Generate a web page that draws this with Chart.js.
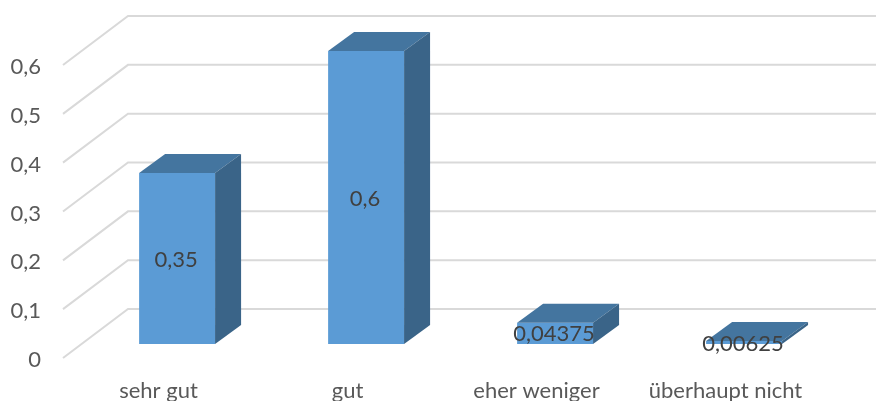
<!DOCTYPE html>
<html>
<head>
<meta charset="utf-8">
<script src="https://cdn.jsdelivr.net/npm/chart.js@4/dist/chart.umd.min.js"></script>
<style>
html, body { margin: 0; padding: 0; background: #fff; }
canvas { display: block; }
</style>
</head>
<body>
<canvas id="chart" width="876" height="401"></canvas>
<script>
var categories = ["sehr gut", "gut", "eher weniger", "überhaupt nicht"];
var values = [0.35, 0.6, 0.04375, 0.00625];
var tickValues = [0, 0.1, 0.2, 0.3, 0.4, 0.5, 0.6];

var fontName = "Lato";
var frontColor = "#5B9BD5";
var topColor = "#44759F";
var sideColor = "#3A6488";
var gridColor = "#D9D9D9";

// floor / wall depth, and where the bars stand on the floor
var wallDx = 65, wallDy = -49;
var barShiftX = 18.6, barShiftY = -14;
var barDx = 26, barDy = -19;

function comma(v) {
	return String(v).replace(".", ",");
}

function face(ctx, points, color) {
	ctx.beginPath();
	ctx.moveTo(points[0][0], points[0][1]);
	for (var i = 1; i < points.length; i++) {
		ctx.lineTo(points[i][0], points[i][1]);
	}
	ctx.closePath();
	ctx.fillStyle = color;
	ctx.fill();
}

var fake3d = {
	id: "fake3d",
	beforeDatasetsDraw: function (chart) {
		var ctx = chart.ctx;
		var y = chart.scales.y;
		var left = chart.chartArea.left - 1;

		// walls
		ctx.save();
		ctx.strokeStyle = gridColor;
		ctx.lineWidth = 2;
		tickValues.forEach(function (v) {
			var py = y.getPixelForValue(v);
			ctx.beginPath();
			ctx.moveTo(left, py);
			ctx.lineTo(left + wallDx, py + wallDy);
			ctx.lineTo(chart.width, py + wallDy);
			ctx.stroke();
		});
		ctx.restore();

		ctx.save();
		ctx.translate(barShiftX, barShiftY);
	},
	afterDatasetsDraw: function (chart) {
		var ctx = chart.ctx;
		var bars = chart.getDatasetMeta(0).data;

		bars.forEach(function (bar) {
			var l = bar.x - bar.width / 2, r = bar.x + bar.width / 2;
			face(ctx, [[l, bar.y], [r, bar.y], [r + barDx, bar.y + barDy], [l + barDx, bar.y + barDy]], topColor);
			face(ctx, [[r, bar.y], [r, bar.base], [r + barDx, bar.base + barDy], [r + barDx, bar.y + barDy]], sideColor);
		});

		ctx.fillStyle = "#404040";
		ctx.font = "22px " + fontName;
		ctx.textAlign = "center";
		ctx.textBaseline = "middle";
		bars.forEach(function (bar, i) {
			ctx.fillText(comma(values[i]), bar.x - 1, (bar.y + bar.base) / 2 + 1);
		});
		ctx.restore();
	}
};

var chart = new Chart("chart", {
	type: "bar",
	data: {
		labels: categories,
		datasets: [{
			data: values,
			backgroundColor: frontColor,
			barPercentage: 0.402,
			categoryPercentage: 1,
			clip: false
		}]
	},
	options: {
		responsive: false,
		animation: false,
		layout: { padding: { left: 0, right: 56, top: 65, bottom: 0 } },
		plugins: { legend: { display: false }, tooltip: { enabled: false } },
		scales: {
			x: {
				grid: { display: false },
				border: { display: false },
				afterFit: function (scale) { scale.height = 43; },
				ticks: {
					color: "#595959",
					font: { family: fontName, size: 22 },
					padding: 12,
					maxRotation: 0
				}
			},
			y: {
				min: 0,
				max: 0.6,
				grid: { display: false },
				border: { display: false },
				afterFit: function (scale) { scale.width = 64; },
				ticks: {
					stepSize: 0.1,
					color: "#595959",
					font: { family: fontName, size: 22 },
					padding: 15,
					labelOffset: 2,
					callback: function (v) { return comma(Number(v.toFixed(1))); }
				}
			}
		}
	},
	plugins: [fake3d]
});
</script>
</body>
</html>
